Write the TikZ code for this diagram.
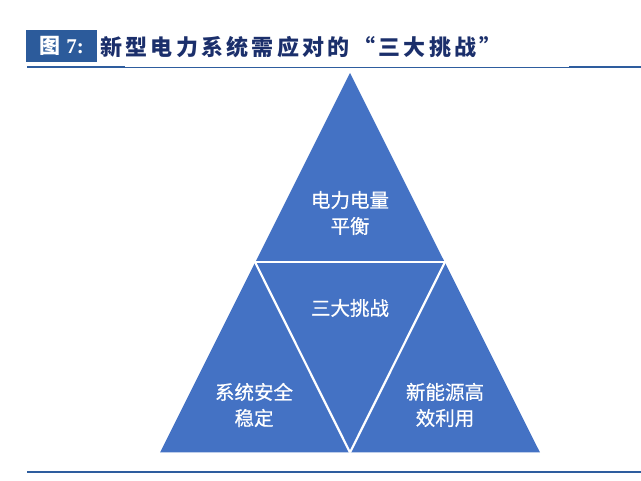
\documentclass[tikz,border=0pt]{standalone}
\usepackage{fontspec}
\setmainfont{Liberation Serif}
\newfontfamily\cjk{Noto Sans CJK SC}
\newfontfamily\cjkm[FakeBold=0.6]{Noto Sans CJK SC}
\newfontfamily\cjkt[LetterSpace=15]{Noto Sans CJK SC}
\definecolor{tri}{HTML}{4472C4}
\definecolor{titlebox}{HTML}{2C5B9B}
\definecolor{titletext}{HTML}{1B2F6B}
\definecolor{rule}{HTML}{2E5D9E}
\begin{document}
\begin{tikzpicture}[x=1pt,y=-1pt,
  lab/.style={text=white,font=\cjkm\fontsize{19.5}{26}\selectfont,align=center,inner sep=0pt},
  sep/.style={draw=white,line width=2.2pt}]
\useasboundingbox (0,0) rectangle (641,481);
% title
\node[fill=titlebox,minimum width=71pt,minimum height=32pt,inner sep=0pt,anchor=north west,text=white,font=\cjk\bfseries\fontsize{21}{22}\selectfont] (tbox) at (26,30) {图\hspace{6pt}{\rmfamily\bfseries 7:}};
\node[anchor=west,inner sep=0pt,text=titletext,font=\cjkt\bfseries\fontsize{22}{24}\selectfont] (ttext) at (100,47) {新型电力系统需应对的“三大挑战”};
\coordinate (r1) at (27,67.5);
\coordinate (r2) at (641,67.5);
\draw[rule,line width=1.2pt] (r1) -- (r2);
\draw[rule,line width=2.4pt] (27,67) -- (125,67);
\draw[rule,line width=2.4pt] (569,67) -- (641,67);
\coordinate (b1) at (27,472);
\coordinate (b2) at (641,472);
\draw[rule,line width=1.6pt] (b1) -- (b2);
% triangle
\coordinate (A) at (350,73);
\coordinate (L) at (160,452.5);
\coordinate (R) at (540,452.5);
\coordinate (ML) at (255,262);
\coordinate (MR) at (445,262);
\coordinate (MB) at (350,452.5);
\fill[tri] (A) -- (R) -- (L) -- cycle;
\draw[sep] (ML) -- (MR);
\draw[sep] (ML) -- (MB);
\draw[sep] (MR) -- (MB);
% labels
\node[lab] (top) at (350,213) {电力电量\\平衡};
\node[lab] (mid) at (350,308) {三大挑战};
\node[lab] (left) at (254,405) {系统安全\\稳定};
\node[lab] (right) at (445,405) {新能源高\\效利用};
\end{tikzpicture}
\end{document}
